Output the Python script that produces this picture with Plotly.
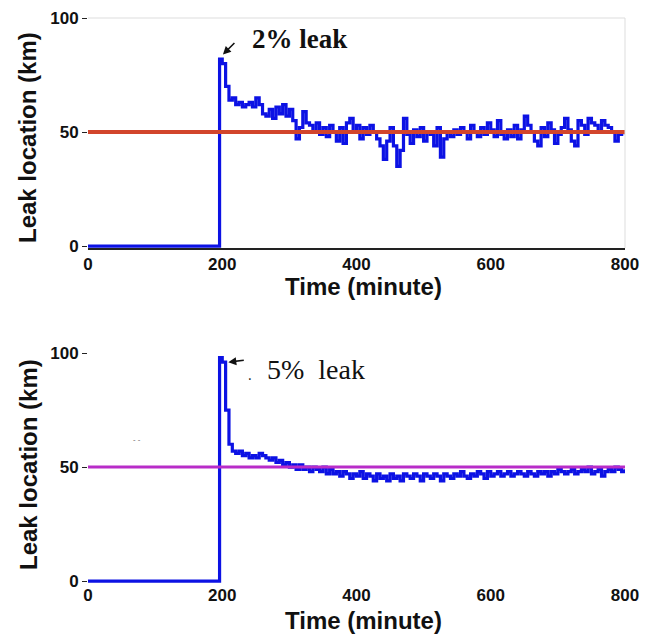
import plotly.graph_objects as go

W, H = 646, 637

# ---------------- data ----------------
t_lead = [0, 194, 196]
top_lead = [0, 0, 82]
bot_lead = [0, 0, 98]

t_main = list(range(200, 801, 5))

top_vals = [80, 70, 64, 65, 62, 63, 61, 62, 63, 61,
            65, 62, 58, 57, 60, 56, 61, 58, 62, 57,
            60, 55, 47, 52, 59, 54, 53, 50, 54, 49,
            52, 48, 53, 50, 46, 52, 45, 54, 56, 50,
            53, 47, 52, 49, 53, 50, 47, 44, 38, 46,
            52, 44, 35, 42, 56, 49, 45, 51, 48, 52,
            46, 50, 49, 44, 52, 39, 47, 50, 48, 51,
            49, 52, 50, 47, 53, 50, 48, 52, 49, 54,
            51, 48, 55, 49, 47, 51, 48, 53, 47, 51,
            57, 53, 50, 46, 44, 52, 48, 54, 51, 45,
            49, 52, 56, 51, 46, 44, 55, 53, 49, 56,
            54, 53, 50, 55, 53, 52, 50, 46, 49, 50,
            49]

bot_vals = [96, 75, 60, 57, 56, 57, 55, 56, 54, 55,
            54, 56, 55, 54, 53, 54, 52, 53, 51, 52,
            50, 51, 49, 51, 49, 50, 48, 50, 49, 48,
            50, 47, 49, 47, 48, 46, 48, 47, 45, 47,
            46, 48, 45, 47, 46, 44, 47, 45, 46, 44,
            47, 45, 46, 44, 47, 46, 45, 47, 46, 44,
            47, 46, 45, 47, 46, 44, 47, 46, 45, 47,
            46, 48, 46, 45, 47, 46, 48, 47, 45, 48,
            46, 47, 48, 46, 47, 48, 46, 47, 48, 47,
            46, 48, 47, 46, 48, 47, 48, 46, 48, 47,
            49, 48, 47, 48, 49, 47, 48, 49, 48, 50,
            47, 48, 49, 46, 48, 49, 48, 50, 49, 48,
            49]

true_loc = 50
x_ticks = [0, 200, 400, 600, 800]
y_ticks = [0, 50, 100]
y_label = "Leak location (km)"
x_label = "Time (minute)"
top_note = "2% leak"
bot_note = "5%&nbsp;&nbsp;leak"

# ---------------- figure ----------------
def px(xp):
    return xp / W

def py(yp):
    return 1 - yp / H

BLUE = "#0c12e4"
RED = "#d2452c"
MAG = "#b82cc8"

fig = go.Figure()
fig.add_trace(go.Scatter(x=t_lead + t_main, y=top_lead + top_vals, mode="lines",
                         line=dict(color=BLUE, width=3.2, shape="hv"), xaxis="x", yaxis="y",
                         showlegend=False, hoverinfo="skip"))
fig.add_trace(go.Scatter(x=[0, 800], y=[true_loc, true_loc], mode="lines",
                         line=dict(color=RED, width=4), xaxis="x", yaxis="y",
                         showlegend=False, hoverinfo="skip"))
fig.add_trace(go.Scatter(x=t_lead + t_main, y=bot_lead + bot_vals, mode="lines",
                         line=dict(color=BLUE, width=3.2, shape="hv"), xaxis="x2", yaxis="y2",
                         showlegend=False, hoverinfo="skip"))
fig.add_trace(go.Scatter(x=[0, 800], y=[true_loc, true_loc], mode="lines",
                         line=dict(color=MAG, width=3), xaxis="x2", yaxis="y2",
                         showlegend=False, hoverinfo="skip"))

tickfont = dict(family="Liberation Sans, Arial", size=17, color="#111", weight="bold")

xcommon = dict(range=[0, 800], tickvals=x_ticks, ticks="", showgrid=False,
               zeroline=False, tickfont=tickfont, domain=[px(88), px(625)],
               ticklabelstandoff=0)
ycommon = dict(range=[-0.8, 100], tickvals=y_ticks, ticks="outside", ticklen=5,
               tickcolor="#222", showgrid=False, zeroline=False, tickfont=tickfont,
               showline=False)

fig.update_layout(
    width=W, height=H,
    margin=dict(l=0, r=0, t=0, b=0, autoexpand=False),
    paper_bgcolor="white", plot_bgcolor="white",
    xaxis=dict(**xcommon, anchor="y", showline=True, linecolor="#222", linewidth=1.5),
    yaxis=dict(**ycommon, anchor="x", domain=[py(248), py(18)]),
    xaxis2=dict(**xcommon, anchor="y2", showline=False),
    yaxis2=dict(**ycommon, anchor="x2", domain=[py(583), py(353)]),
)

# light frame on the top panel
fig.add_shape(type="line", xref="x domain", yref="y domain", x0=0, x1=1, y0=1, y1=1,
              line=dict(color="#dddddd", width=1))
fig.add_shape(type="line", xref="x domain", yref="y domain", x0=1, x1=1, y0=0, y1=1,
              line=dict(color="#dddddd", width=1))

titlefont = dict(family="Liberation Sans, Arial", size=24, color="#111", weight="bold")
anns = []
for cy in (138, 465):
    anns.append(dict(text=y_label, x=px(28), y=py(cy), xref="paper", yref="paper",
                     showarrow=False, textangle=-90, font=titlefont,
                     xanchor="center", yanchor="middle"))
for cy in (286, 620):
    anns.append(dict(text=x_label, x=px(363), y=py(cy), xref="paper", yref="paper",
                     showarrow=False, font=titlefont, xanchor="center", yanchor="middle"))

anns.append(dict(text=top_note, x=px(299), y=py(39), xref="paper", yref="paper",
                 showarrow=False, xanchor="center", yanchor="middle",
                 font=dict(family="Liberation Serif, Times New Roman", size=27,
                           color="#111", weight="bold")))
anns.append(dict(text=bot_note, x=px(316), y=py(369), xref="paper", yref="paper",
                 showarrow=False, xanchor="center", yanchor="middle",
                 font=dict(family="Liberation Serif, Times New Roman", size=28,
                           color="#111")))

# arrows
anns.append(dict(text="", x=201, y=84, xref="x", yref="y", ax=13, ay=-13,
                 showarrow=True, arrowhead=2, arrowsize=1, arrowwidth=1.6,
                 arrowcolor="#111"))
anns.append(dict(text="", x=209, y=96, xref="x2", yref="y2", ax=17, ay=-2,
                 showarrow=True, arrowhead=2, arrowsize=1, arrowwidth=1.6,
                 arrowcolor="#111"))
anns.append(dict(text=".", x=px(250), y=py(374), xref="paper", yref="paper",
                 showarrow=False, font=dict(size=14, color="#222")))
anns.append(dict(text="- -", x=px(131), y=py(446), xref="paper", yref="paper",
                 showarrow=False, font=dict(size=8, color="#555")))

fig.update_layout(annotations=anns)

fig.write_html("out.html")
